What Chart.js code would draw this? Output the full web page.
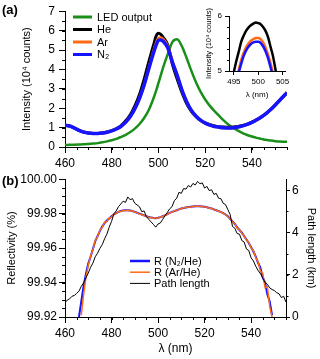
<!DOCTYPE html>
<html><head><meta charset="utf-8">
<script src="https://cdn.jsdelivr.net/npm/chart.js@4"></script>
<style>
html,body{margin:0;padding:0;background:#fff;}
#wrap{position:relative;width:320px;height:359px;overflow:hidden;background:#fff;}
canvas{position:absolute;}
</style></head><body>
<div id="wrap">
<canvas id="top" width="320" height="170" style="left:0px;top:0px"></canvas>
<canvas id="bot" width="320" height="189" style="left:0px;top:170px"></canvas>
<canvas id="inset" width="110" height="105" style="left:195px;top:0px"></canvas>
</div>
<script>
// ---------- DATA ----------
// panel (a) main: wavelength (nm) and intensity (10^4 counts)
const mainWl = [460,462,464,466,468,470,472,474,476,478,480,482,484,486,488,490,492,494,496,498,499,500,501,502,504,506,508,510,512,514,516,518,520,522,524,526,528,530,532,534,536,538,540,542,544,546,548,550,552,554,555];
const ledInt = [0.10,0.11,0.12,0.13,0.14,0.16,0.18,0.20,0.24,0.29,0.35,0.42,0.52,0.63,0.77,0.96,1.20,1.52,1.95,2.55,2.90,3.30,3.70,4.10,4.80,5.42,5.55,5.20,4.60,3.95,3.35,2.85,2.45,2.12,1.85,1.60,1.36,1.15,0.98,0.84,0.72,0.62,0.54,0.47,0.42,0.37,0.33,0.30,0.28,0.27,0.27];
const heInt  = [1.12,1.08,0.98,0.86,0.77,0.72,0.70,0.70,0.72,0.77,0.84,0.95,1.10,1.35,1.68,2.15,2.75,3.55,4.45,5.30,5.72,5.86,5.80,5.65,5.25,4.25,3.50,2.82,2.25,1.85,1.57,1.37,1.24,1.15,1.09,1.05,1.03,1.02,1.03,1.06,1.11,1.18,1.28,1.40,1.55,1.72,1.93,2.17,2.42,2.68,2.80];
const arInt  = [1.12,1.08,0.98,0.86,0.77,0.72,0.70,0.70,0.72,0.76,0.83,0.93,1.07,1.28,1.58,2.00,2.55,3.25,4.12,4.98,5.35,5.60,5.63,5.55,5.18,4.40,3.70,2.95,2.35,1.90,1.60,1.38,1.23,1.13,1.06,1.02,0.99,0.98,0.99,1.03,1.09,1.17,1.27,1.40,1.55,1.72,1.93,2.17,2.42,2.68,2.80];
const n2Int  = [1.12,1.08,0.98,0.86,0.77,0.72,0.70,0.70,0.72,0.76,0.83,0.93,1.07,1.28,1.58,2.00,2.55,3.25,4.10,4.90,5.25,5.50,5.52,5.45,5.10,4.35,3.70,2.95,2.35,1.90,1.60,1.38,1.23,1.13,1.06,1.02,0.99,0.98,0.99,1.03,1.09,1.17,1.27,1.40,1.55,1.72,1.93,2.17,2.42,2.68,2.80];
// panel (a) inset
const insetWl = [494.5,495,495.5,496,496.5,497,497.5,498,498.5,499,499.5,500,500.5,501,501.5,502,502.5,503,503.5,504];
const insetHe = [4.70,4.98,5.18,5.35,5.53,5.64,5.73,5.79,5.83,5.86,5.88,5.87,5.85,5.80,5.73,5.62,5.45,5.28,5.05,4.80];
const insetAr = [4.50,4.68,4.85,5.02,5.20,5.33,5.43,5.50,5.55,5.58,5.60,5.60,5.58,5.52,5.43,5.30,5.15,4.97,4.75,4.50];
const insetN2 = [4.45,4.62,4.80,4.97,5.13,5.27,5.37,5.44,5.49,5.52,5.53,5.53,5.51,5.45,5.36,5.24,5.08,4.90,4.68,4.45];
// panel (b): reflectivity (%) and path length (km)
const reflWl = [466,467,468,469,470,471,472,473,474,475,476,477,478,479,480,481,482,483,484,485,486,487,488,489,490,491,492,493,494,495,496,497,498,499,500,501,502,503,504,505,506,507,508,509,510,511,512,513,514,515,516,517,518,519,520,521,522,523,524,525,526,527,528,529,530,531,532,533,534,535,536,537,538,539,540,541,542,543,544,545,546,547,548,549];
const reflN2 = [99.920,99.929,99.938,99.945,99.951,99.955,99.9595,99.964,99.967,99.970,99.9725,99.9745,99.976,99.9772,99.9785,99.9795,99.9803,99.981,99.9815,99.9818,99.982,99.982,99.9818,99.9815,99.981,99.9805,99.980,99.9795,99.979,99.9785,99.978,99.9777,99.9775,99.9774,99.9776,99.978,99.9785,99.979,99.9797,99.9805,99.981,99.9815,99.982,99.9825,99.983,99.9833,99.9836,99.9838,99.984,99.9842,99.9843,99.9843,99.9843,99.9842,99.984,99.9837,99.9833,99.983,99.9825,99.982,99.9815,99.981,99.9803,99.9795,99.9785,99.977,99.9755,99.974,99.972,99.9705,99.969,99.967,99.965,99.963,99.9605,99.958,99.955,99.9515,99.9485,99.943,99.940,99.933,99.929,99.921];
const reflAr = [null,99.921,99.933,99.943,99.950,99.9555,99.959,99.9645,99.9665,99.9705,99.972,99.975,99.9755,99.9775,99.978,99.9798,99.980,99.9812,99.9812,99.9819,99.9817,99.9821,99.9816,99.9817,99.9808,99.9806,99.9797,99.9796,99.9787,99.9786,99.9777,99.9778,99.9772,99.9776,99.9773,99.9781,99.9783,99.9792,99.9795,99.9806,99.9808,99.9817,99.9818,99.9826,99.9828,99.9835,99.9834,99.9839,99.9838,99.9843,99.9841,99.9844,99.9841,99.9843,99.9838,99.9838,99.9831,99.9831,99.9823,99.9821,99.9813,99.9811,99.9801,99.9796,99.9782,99.9772,99.9752,99.9742,99.9716,99.9707,99.9686,99.9672,99.9646,99.9633,99.960,99.9585,99.9545,99.952,99.9465,99.9455,99.937,99.9375,99.926,99.920];
const pathWl = [460,461,462,463,464,465,466,467,468,469,470,471,472,473,474,475,476,477,478,479,480,481,482,483,484,485,486,487,488,489,490,491,492,493,494,495,496,497,498,499,500,501,502,503,504,505,506,507,508,509,510,511,512,513,514,515,516,517,518,519,520,521,522,523,524,525,526,527,528,529,530,531,532,533,534,535,536,537,538,539,540,541,542,543,544,545,546,547,548,549,550,551,552,553,554,555];
const pathLen = [0.68,0.80,0.86,0.98,1.02,1.12,1.22,1.45,1.62,1.85,2.08,2.35,2.55,2.85,3.02,3.25,3.42,3.70,3.92,4.25,4.52,4.88,5.02,5.22,5.35,5.48,5.42,5.68,5.55,5.60,5.38,5.30,5.22,4.98,5.02,4.75,4.62,4.50,4.38,4.25,4.40,4.45,4.62,4.80,4.95,5.12,5.22,5.50,5.62,5.90,5.85,6.08,6.05,6.22,6.15,6.32,6.25,6.42,6.30,6.35,6.10,6.18,5.98,6.02,5.80,5.85,5.62,5.60,5.38,5.32,5.08,4.85,4.28,4.20,3.95,3.92,3.62,3.55,3.22,3.15,2.80,2.65,2.40,2.20,2.05,1.85,1.62,1.55,1.38,1.30,1.25,1.15,1.10,0.92,0.98,0.70];
// tick values
const wlTicks = [460,480,500,520,540];
const intTicks = [0,1,2,3,4,5,6,7];
const insetWlTicks = [495,500,505];
const insetIntTicks = [5,6];
const reflTicks = [99.92,99.94,99.96,99.98,100.00];
const pathTicks = [0,2,4,6];

// ---------- helpers ----------
const FONT = "'Liberation Sans', Arial, Helvetica, sans-serif";
Chart.defaults.font.family = FONT;
Chart.defaults.color = '#000';
const pts = (xs, ys) => xs.map((x, i) => ({x: x, y: ys[i]}));
const setTicks = arr => (s => { s.ticks = arr.map(v => ({value: v})); });

const minorTicks = {
  id: 'minorTicks',
  afterDraw(chart, args, o) {
    const ctx = chart.ctx, a = chart.chartArea;
    ctx.save(); ctx.strokeStyle = '#000'; ctx.lineWidth = 1; ctx.beginPath();
    (o.list || []).forEach(m => {
      const s = chart.scales[m.axis];
      for (let k = Math.ceil(s.min / m.step - 1e-6); k * m.step <= s.max + 1e-9; k++) {
        const p = Math.round(s.getPixelForValue(k * m.step)) + 0.5;
        if (s.isHorizontal()) { ctx.moveTo(p, a.bottom); ctx.lineTo(p, a.bottom + m.len); }
        else if (s.position === 'right') { ctx.moveTo(a.right, p); ctx.lineTo(a.right + m.len, p); }
        else { ctx.moveTo(a.left, p); ctx.lineTo(a.left - m.len, p); }
      }
    });
    ctx.stroke(); ctx.restore();
  }
};
const customLegend = {
  id: 'customLegend',
  afterDraw(chart, args, o) {
    if (!o.items) return;
    const ctx = chart.ctx;
    ctx.save(); ctx.font = o.font; ctx.textBaseline = 'middle'; ctx.fillStyle = '#000';
    o.items.forEach((it, i) => {
      const ds = chart.data.datasets[it.ds];
      const y = o.y0 + i * o.dy;
      ctx.strokeStyle = ds.borderColor; ctx.lineWidth = it.lw;
      ctx.beginPath(); ctx.moveTo(o.x1, y); ctx.lineTo(o.x2, y); ctx.stroke();
      ctx.fillText(ds.label, o.tx, y + 0.5);
    });
    ctx.restore();
  }
};
const panelLabel = {
  id: 'panelLabel',
  afterDraw(chart, args, o) {
    if (!o.text) return;
    const ctx = chart.ctx;
    ctx.save(); ctx.font = 'bold 13px ' + FONT; ctx.fillStyle = '#000'; ctx.textBaseline = 'middle';
    ctx.fillText(o.text, o.x, o.y); ctx.restore();
  }
};

function axis(extra) {
  return Object.assign({
    type: 'linear',
    grid: {drawOnChartArea: false, drawTicks: true, tickLength: 6, color: '#000', lineWidth: 1},
    border: {display: true, color: '#000', width: 1},
  }, extra);
}

const GREEN = '#1a8f1a', ORANGE = '#ff6a14', BLUE = '#1414ff';

// ---------- panel (a) ----------
new Chart(document.getElementById('top'), {
  type: 'line',
  data: { datasets: [
    {label: 'N₂', data: pts(mainWl, n2Int), borderColor: BLUE, borderWidth: 3.5, order: 0},
    {label: 'Ar', data: pts(mainWl, arInt), borderColor: ORANGE, borderWidth: 3, order: 1},
    {label: 'He', data: pts(mainWl, heInt), borderColor: '#000', borderWidth: 3, order: 2},
    {label: 'LED output', data: pts(mainWl, ledInt), borderColor: GREEN, borderWidth: 2.5, order: 3},
  ]},
  options: {
    responsive: false, animation: false, devicePixelRatio: 1,
    elements: {point: {radius: 0}, line: {cubicInterpolationMode: 'monotone'}},
    layout: {padding: {top: 9, right: 33, left: 0, bottom: 0}},
    plugins: {legend: {display: false}, tooltip: {enabled: false},
      minorTicks: {list: [{axis: 'x', step: 5, len: 3}, {axis: 'y', step: 0.5, len: 3}]},
      customLegend: {font: '11px ' + FONT, x1: 73, x2: 92, tx: 97, y0: 17, dy: 12.5,
        items: [{ds: 3, lw: 3}, {ds: 2, lw: 3}, {ds: 1, lw: 3}, {ds: 0, lw: 3}]},
      panelLabel: {text: '(a)', x: 2, y: 10}
    },
    scales: {
      x: axis({min: 460, max: 555, afterBuildTicks: setTicks(wlTicks), afterFit: s => { s.height = 23; },
        ticks: {padding: 3, font: {size: 12}, maxRotation: 0, autoSkip: false}}),
      y: axis({min: 0, max: 7, afterBuildTicks: setTicks(intTicks), afterFit: s => { s.width = 65; },
        ticks: {padding: 4, font: {size: 12}},
        title: {display: true, text: 'Intensity (10⁴ counts)', font: {size: 11}, padding: {top: 20, bottom: 0}}})
    }
  },
  plugins: [minorTicks, customLegend, panelLabel]
});

// ---------- inset ----------
new Chart(document.getElementById('inset'), {
  type: 'line',
  data: { datasets: [
    {label: 'N₂', data: pts(insetWl, insetN2), borderColor: BLUE, borderWidth: 2.5, order: 0},
    {label: 'Ar', data: pts(insetWl, insetAr), borderColor: ORANGE, borderWidth: 2.5, order: 1},
    {label: 'He', data: pts(insetWl, insetHe), borderColor: '#000', borderWidth: 2.5, order: 2},
  ]},
  options: {
    responsive: false, animation: false, devicePixelRatio: 1,
    elements: {point: {radius: 0}, line: {cubicInterpolationMode: 'monotone'}},
    layout: {padding: {top: 16, right: 20, left: 0, bottom: 0}},
    plugins: {legend: {display: false}, tooltip: {enabled: false},
      minorTicks: {list: [{axis: 'y', step: 0.2, len: 2}]}},
    scales: {
      x: axis({min: 494, max: 505.5, afterBuildTicks: setTicks(insetWlTicks), afterFit: s => { s.height = 34; },
        grid: {drawOnChartArea: false, tickLength: 4, color: '#000'},
        ticks: {padding: 2, font: {size: 8}, maxRotation: 0, autoSkip: false},
        title: {display: true, text: 'λ (nm)', font: {size: 8}, padding: {top: 0, bottom: 5}}}),
      y: axis({min: 5, max: 6, afterBuildTicks: setTicks(insetIntTicks), afterFit: s => { s.width = 34; },
        grid: {drawOnChartArea: false, tickLength: 4, color: '#000'},
        ticks: {padding: 3, font: {size: 8}},
        title: {display: true, text: 'Intensity (10⁴ counts)', font: {size: 7.5}, padding: {top: 9, bottom: 0}}})
    }
  },
  plugins: [minorTicks]
});

// ---------- panel (b) ----------
new Chart(document.getElementById('bot'), {
  type: 'line',
  data: { datasets: [
    {label: 'R (N₂/He)', data: pts(reflWl, reflN2), borderColor: BLUE, borderWidth: 2, yAxisID: 'y', order: 2, tension: 0},
    {label: 'R (Ar/He)', data: pts(reflWl, reflAr), borderColor: ORANGE, borderWidth: 1.5, yAxisID: 'y', order: 1, tension: 0},
    {label: 'Path length', data: pts(pathWl, pathLen), borderColor: '#000', borderWidth: 1, yAxisID: 'y2', order: 0, tension: 0},
  ]},
  options: {
    responsive: false, animation: false, devicePixelRatio: 1,
    elements: {point: {radius: 0}},
    layout: {padding: {top: 9, right: 0, left: 0, bottom: 0}},
    plugins: {legend: {display: false}, tooltip: {enabled: false},
      minorTicks: {list: [{axis: 'x', step: 5, len: 3}, {axis: 'y', step: 0.005, len: 3}, {axis: 'y2', step: 1, len: 2.5}]},
      customLegend: {font: '11px ' + FONT, x1: 130, x2: 150, tx: 154, y0: 91, dy: 11.2,
        items: [{ds: 0, lw: 2.5}, {ds: 1, lw: 1.5}, {ds: 2, lw: 1}]},
      panelLabel: {text: '(b)', x: 2, y: 11}
    },
    scales: {
      x: axis({min: 460, max: 555, afterBuildTicks: setTicks(wlTicks), afterFit: s => { s.height = 42; },
        ticks: {padding: 3, font: {size: 12}, maxRotation: 0, autoSkip: false},
        title: {display: true, text: 'λ (nm)', font: {size: 12}, padding: {top: 0, bottom: 3}}}),
      y: axis({min: 99.92, max: 100.00, afterBuildTicks: setTicks(reflTicks), afterFit: s => { s.width = 65; },
        ticks: {padding: 2, font: {size: 12}, callback: v => Number(v).toFixed(2)},
        title: {display: true, text: 'Reflectivity (%)', font: {size: 11}, padding: {top: 5, bottom: 0}}}),
      y2: axis({position: 'right', min: 0, max: 6.52, afterBuildTicks: setTicks(pathTicks), afterFit: s => { s.width = 34; },
        grid: {drawOnChartArea: false, tickLength: 4, color: '#000'},
        ticks: {padding: 2, font: {size: 12}},
        title: {display: true, text: 'Path length (km)', font: {size: 11}, padding: {top: 2, bottom: 0}}})
    }
  },
  plugins: [minorTicks, customLegend, panelLabel]
});
</script>
</body></html>
